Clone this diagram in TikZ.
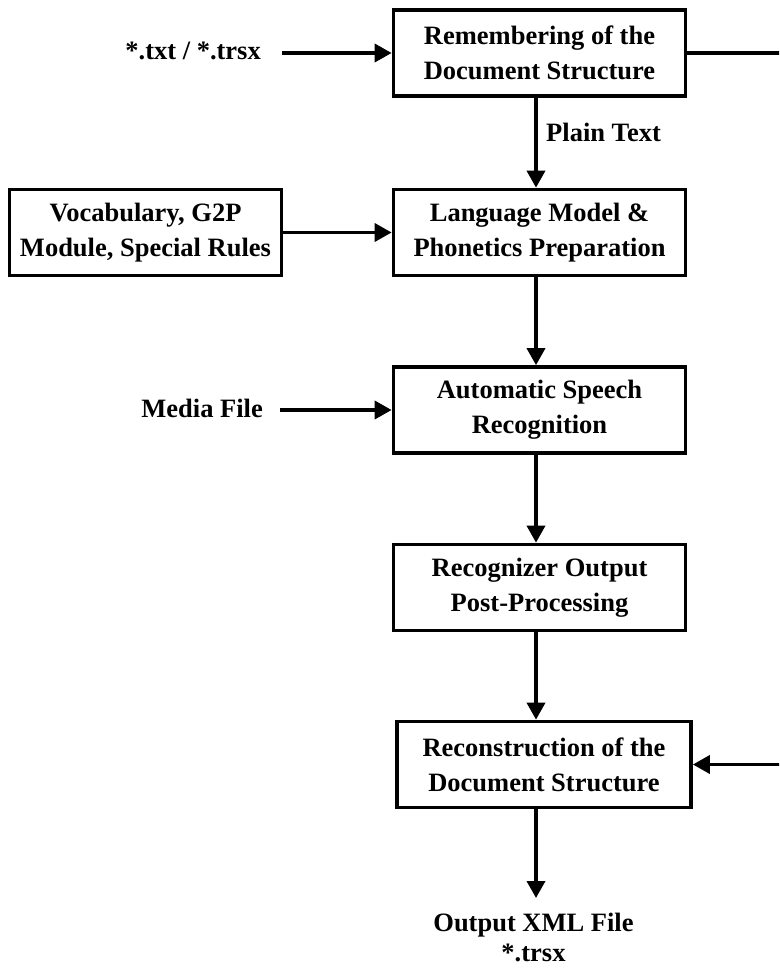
\documentclass[tikz,border=0pt]{standalone}
\usepackage{fontspec}
\setmainfont{Liberation Serif}
\usetikzlibrary{arrows.meta}
\begin{document}
\begin{tikzpicture}[x=1pt,y=-1pt,
  font=\fontsize{26.5}{35}\selectfont\bfseries,
  stage/.style={draw, line width=3.7pt, inner sep=0pt, align=center,
    minimum width=292pt, minimum height=86pt},
  label/.style={inner sep=0pt},
  conn/.style={line width=3.6pt, -{Triangle[length=17pt,width=18pt]}}]
\useasboundingbox[fill=white] (0,0) rectangle (779,968);

% process stages
\node[stage] (rem)  at (539.5,53)  {Remembering of the\\Document Structure};
\node[stage] (lm)   at (539.5,232.5) {Language Model \&\\Phonetics Preparation};
\node[stage, minimum width=272pt] (voc) at (145.5,232.5) {Vocabulary, G2P\\Module, Special Rules};
\node[stage] (asr)  at (539.5,410) {Automatic Speech\\Recognition};
\node[stage] (post) at (539.5,587.5) {Recognizer Output\\Post-Processing};
\node[stage, minimum width=294pt] (rec) at (544,764.5) {Reconstruction of the\\Document Structure};

% inputs and outputs
\node[label, anchor=base east] (txt) at (261,60) {*.txt / *.trsx};
\node[label, anchor=base east] (media) at (263,417) {Media File};
\node[label, anchor=base west] (plain) at (546,142) {Plain Text};
\node[label, align=center, anchor=north, font=\fontsize{26.5}{30}\selectfont\bfseries]
  (out) at (533.5,913) {Output XML File\\*.trsx};

\coordinate (spine) at (536,0);
\coordinate (outtip) at (536,898);

% connectors
\draw[conn] (txt.east |- rem.west) ++(21,0) coordinate (txtstart) -- (rem.west);
\draw[conn] (media.east |- asr.west) ++(17,0) coordinate (mediastart) -- (asr.west);
\draw[conn] (voc.east) -- (lm.west);
\draw[conn] (rem.south -| spine) -- (lm.north -| spine);
\draw[conn] (lm.south -| spine) -- (asr.north -| spine);
\draw[conn] (asr.south -| spine) -- (post.north -| spine);
\draw[conn] (post.south -| spine) -- (rec.north -| spine);
\draw[conn] (rec.south -| spine) -- (outtip);

% structure bypass, running past the right border
\begin{scope}
  \clip (0,0) rectangle (779,968);
  \draw[conn] (rem.east) -- ++(120,0) |- (rec.east);
\end{scope}
\end{tikzpicture}
\end{document}
